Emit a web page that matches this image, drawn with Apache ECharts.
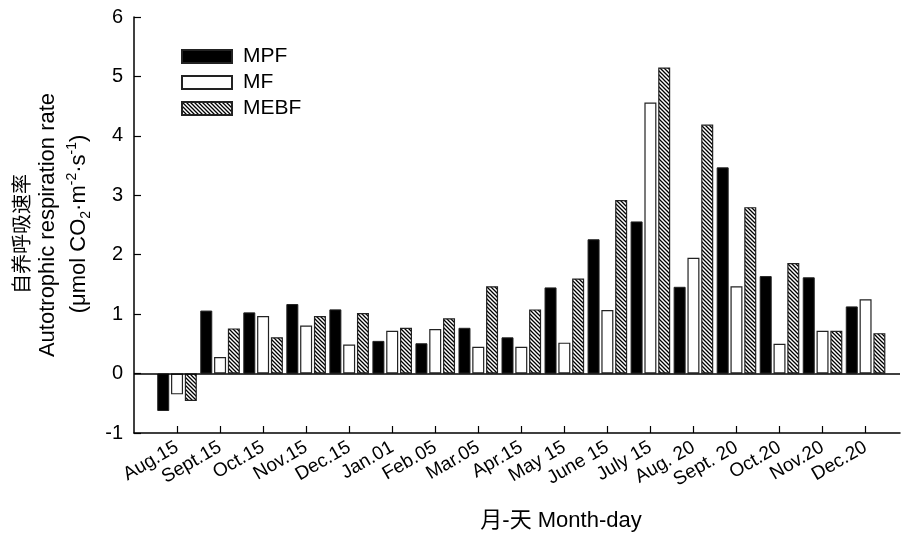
<!DOCTYPE html>
<html>
<head>
<meta charset="utf-8">
<script src="https://cdn.jsdelivr.net/npm/echarts@6/dist/echarts.min.js"></script>
<style>
  html, body { margin: 0; padding: 0; background: #fff; }
  #chart { width: 904px; height: 543px; }
</style>
</head>
<body>
<div id="chart"></div>
<script>
const categories = ['Aug.15', 'Sept.15', 'Oct.15', 'Nov.15', 'Dec.15', 'Jan.01', 'Feb.05', 'Mar.05',
  'Apr.15', 'May 15', 'June 15', 'July 15', 'Aug. 20', 'Sept. 20', 'Oct.20', 'Nov.20', 'Dec.20'];
const mpf = [-0.63, 1.06, 1.03, 1.17, 1.08, 0.55, 0.51, 0.77, 0.61, 1.45, 2.26, 2.56, 1.46, 3.47, 1.64, 1.62, 1.13];
const mf = [-0.35, 0.28, 0.97, 0.81, 0.49, 0.72, 0.75, 0.45, 0.45, 0.52, 1.07, 4.56, 1.95, 1.47, 0.50, 0.72, 1.25];
const mebf = [-0.46, 0.76, 0.61, 0.97, 1.02, 0.77, 0.93, 1.47, 1.08, 1.60, 2.92, 5.15, 4.19, 2.80, 1.86, 0.72, 0.68];
const yTicks = [-1, 0, 1, 2, 3, 4, 5, 6];

const FONT = "'Liberation Sans', Arial, 'Noto Sans CJK SC', sans-serif";

// diagonal hatch for MEBF
const makeHatch = () => {
  const s = 4;
  const c = document.createElement('canvas');
  c.width = s; c.height = s;
  const ctx = c.getContext('2d');
  ctx.fillStyle = '#fff';
  ctx.fillRect(0, 0, s, s);
  ctx.strokeStyle = '#000';
  ctx.lineWidth = 1.3;
  ctx.beginPath();
  ctx.moveTo(-1, -1); ctx.lineTo(s + 1, s + 1);
  ctx.moveTo(-1, s - 1); ctx.lineTo(1, s + 1);
  ctx.moveTo(s - 1, -1); ctx.lineTo(s + 1, 1);
  ctx.stroke();
  return c;
};

const toPairs = (arr) => arr.map((v, i) => [i + 1, v]);
const positions = categories.map((c, i) => i + 1);

const barBase = {
  type: 'bar',
  barWidth: 12,
  barGap: '15%',
  silent: true,
};

const chart = echarts.init(document.getElementById('chart'));
chart.setOption({
  animation: false,
  textStyle: { fontFamily: FONT, color: '#000' },
  grid: { left: 134, right: 4, top: 17, bottom: 110, containLabel: false },
  legend: {
    orient: 'vertical',
    left: 181,
    top: 46,
    padding: 0,
    itemWidth: 50,
    itemHeight: 13,
    itemGap: 5,
    selectedMode: false,
    icon: 'rect',
    textStyle: { fontFamily: FONT, fontSize: 21, color: '#000', padding: [0, 0, 0, 6] },
    data: ['MPF', 'MF', 'MEBF'],
  },
  xAxis: {
    type: 'value',
    min: 0,
    max: 17.8,
    interval: 1,
    splitLine: { show: false },
    axisLine: { show: true, onZero: false, lineStyle: { color: '#000', width: 1.5 } },
    axisTick: { show: true, inside: true, length: 7, customValues: positions, lineStyle: { color: '#000', width: 1.2 } },
    axisLabel: {
      customValues: positions,
      formatter: (v) => categories[Math.round(v) - 1] || '',
      rotate: 30,
      fontSize: 19,
      fontFamily: FONT,
      color: '#000',
      margin: 13,
    },
  },
  yAxis: {
    type: 'value',
    min: -1,
    max: 6,
    interval: 1,
    splitLine: { show: false },
    axisLine: { show: true, lineStyle: { color: '#000', width: 1.5 } },
    axisTick: { show: true, inside: true, length: 7, lineStyle: { color: '#000', width: 1.2 } },
    axisLabel: {
      fontSize: 20,
      fontFamily: FONT,
      color: '#000',
      margin: 11,
      formatter: (v) => (yTicks.includes(v) ? String(v) : ''),
    },
  },
  series: [
    {
      ...barBase,
      name: 'MPF',
      data: toPairs(mpf),
      itemStyle: { color: '#000', borderColor: '#222', borderWidth: 1 },
      markLine: {
        silent: true,
        symbol: 'none',
        label: { show: false },
        lineStyle: { color: '#000', width: 1.5, type: 'solid' },
        data: [{ yAxis: 0 }],
      },
    },
    {
      ...barBase,
      name: 'MF',
      data: toPairs(mf),
      itemStyle: { color: '#fff', borderColor: '#222', borderWidth: 1.2 },
    },
    {
      ...barBase,
      name: 'MEBF',
      data: toPairs(mebf),
      itemStyle: { color: { image: makeHatch(), repeat: 'repeat' }, borderColor: '#222', borderWidth: 1.2 },
    },
  ],
  graphic: [
    {
      type: 'text',
      x: 21,
      y: 234,
      rotation: Math.PI / 2,
      style: {
        text: '自养呼吸速率',
        font: "20px 'Noto Sans CJK SC', sans-serif",
        fill: '#000',
        align: 'center',
        verticalAlign: 'middle',
      },
    },
    {
      type: 'text',
      x: 48,
      y: 225,
      rotation: Math.PI / 2,
      style: {
        text: 'Autotrophic respiration rate',
        font: "22px 'Liberation Sans', Arial, sans-serif",
        fill: '#000',
        align: 'center',
        verticalAlign: 'middle',
      },
    },
    {
      type: 'text',
      x: 79,
      y: 224,
      rotation: Math.PI / 2,
      style: {
        text: '(μmol CO{sub|2}·m{sup|-2}·s{sup|-1})',
        fontFamily: FONT,
        fontSize: 22,
        lineHeight: 28,
        fill: '#000',
        align: 'center',
        verticalAlign: 'middle',
        rich: {
          sub: { fontSize: 14, fontFamily: FONT, verticalAlign: 'bottom', lineHeight: 14 },
          sup: { fontSize: 14, fontFamily: FONT, verticalAlign: 'top', lineHeight: 14 },
        },
      },
    },
    {
      type: 'text',
      x: 561,
      y: 521,
      style: {
        text: '月-天 Month-day',
        fontFamily: FONT,
        fontSize: 22,
        fill: '#000',
        align: 'center',
        verticalAlign: 'middle',
      },
    },
  ],
});
</script>
</body>
</html>
